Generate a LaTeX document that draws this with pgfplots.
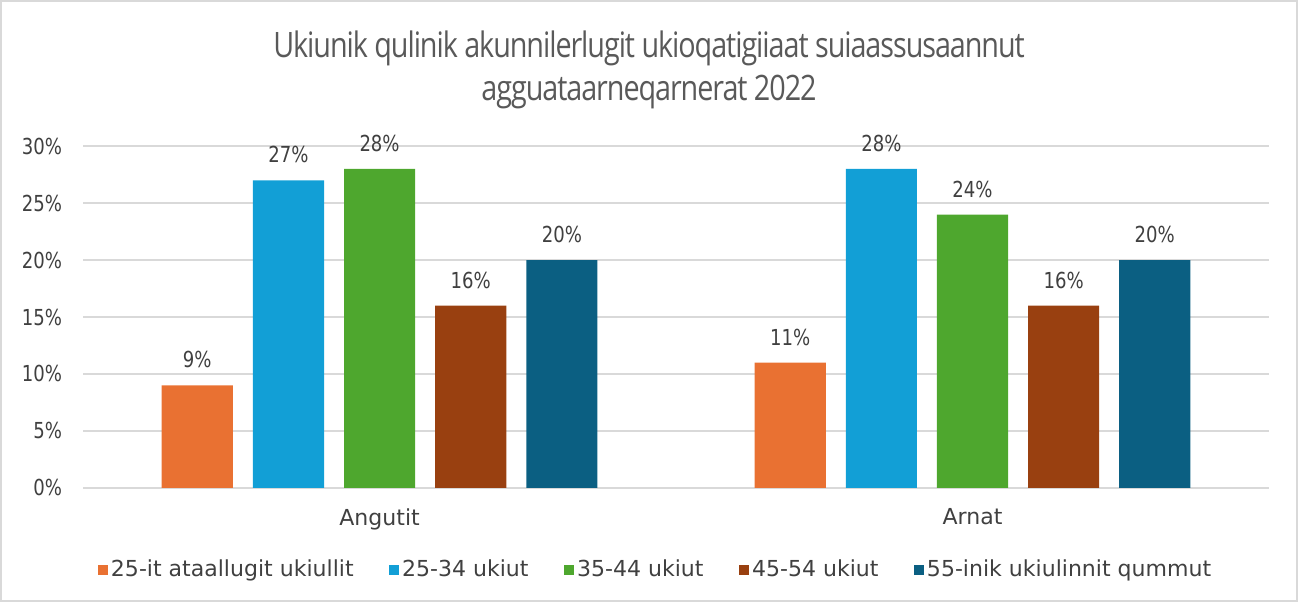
\documentclass[border=0pt]{standalone}
\usepackage{pgfplots}
\pgfplotsset{compat=1.18}
\usepackage{fontspec}
\setmainfont{DejaVu Sans}
\newfontfamily\numfont{DejaVu Sans}[FakeStretch=0.82]
\newfontfamily\titlefont{Open Sans}[FakeStretch=0.82,LetterSpace=-3]
\definecolor{cOr}{HTML}{E97132}
\definecolor{cBl}{HTML}{129FD6}
\definecolor{cGr}{HTML}{4EA72E}
\definecolor{cBr}{HTML}{994010}
\definecolor{cTe}{HTML}{0B5F82}
\definecolor{txt}{HTML}{404040}
\definecolor{ttl}{HTML}{595959}
\definecolor{grd}{HTML}{D9D9D9}
\begin{document}
\begin{tikzpicture}
\draw[grd, line width=1pt] (-41pt,-56.5pt) rectangle (606pt,243pt);
\node[text=ttl, font=\titlefont\fontsize{17.5}{20}\selectfont, anchor=base] at (282.5pt,215pt) {Ukiunik qulinik akunnilerlugit ukioqatigiiaat suiaassusaannut};
\node[text=ttl, font=\titlefont\fontsize{17.5}{20}\selectfont, anchor=base] at (282.5pt,193.5pt) {agguataarneqarnerat 2022};
\begin{axis}[
  at={(0pt,0pt)}, anchor=south west,
  scale only axis, width=592pt, height=170.5pt,
  ybar=10pt, bar width=35.5pt,
  xmin=-0.5, xmax=1.5, ymin=0, ymax=30,
  xtick={0,1}, xticklabels={Angutit,Arnat},
  ytick={0,5,10,15,20,25,30},
  /pgf/number format/assume math mode=true,
  yticklabel={\numfont\pgfmathprintnumber{\tick}\%},
  ymajorgrids, grid style={grd, line width=1pt},
  axis line style={draw=none},
  major tick length=0pt,
  tick label style={text=txt, font=\fontsize{11}{13}\selectfont},
  yticklabel style={xshift=-7pt},
  xticklabel style={yshift=-7pt},
  nodes near coords={\numfont\pgfmathprintnumber{\pgfplotspointmeta}\%},
  every node near coord/.append style={text=txt, font=\fontsize{11}{13}\selectfont, yshift=5pt},
  legend columns=5,
  legend style={at={(0.483,-0.2405)}, anchor=center, draw=none, fill=none,
    font=\fontsize{11}{13}\selectfont, text=txt,
    /tikz/every odd column/.append style={column sep=0pt},
    /tikz/every even column/.append style={column sep=16pt},
    nodes={inner xsep=1.5pt}},
  legend image code/.code={\path[#1,draw=none] (0pt,-2.6pt) rectangle (5.2pt,2.6pt);},
]
\addplot[fill=cOr, draw=none] coordinates {(0,9) (1,11)};
\addplot[fill=cBl, draw=none] coordinates {(0,27) (1,28)};
\addplot[fill=cGr, draw=none] coordinates {(0,28) (1,24)};
\addplot[fill=cBr, draw=none] coordinates {(0,16) (1,16)};
\addplot[fill=cTe, draw=none] coordinates {(0,20) (1,20)};
\legend{25-it ataallugit ukiullit,25-34 ukiut,35-44 ukiut,45-54 ukiut,55-inik ukiulinnit qummut}
\end{axis}
\end{tikzpicture}
\end{document}
